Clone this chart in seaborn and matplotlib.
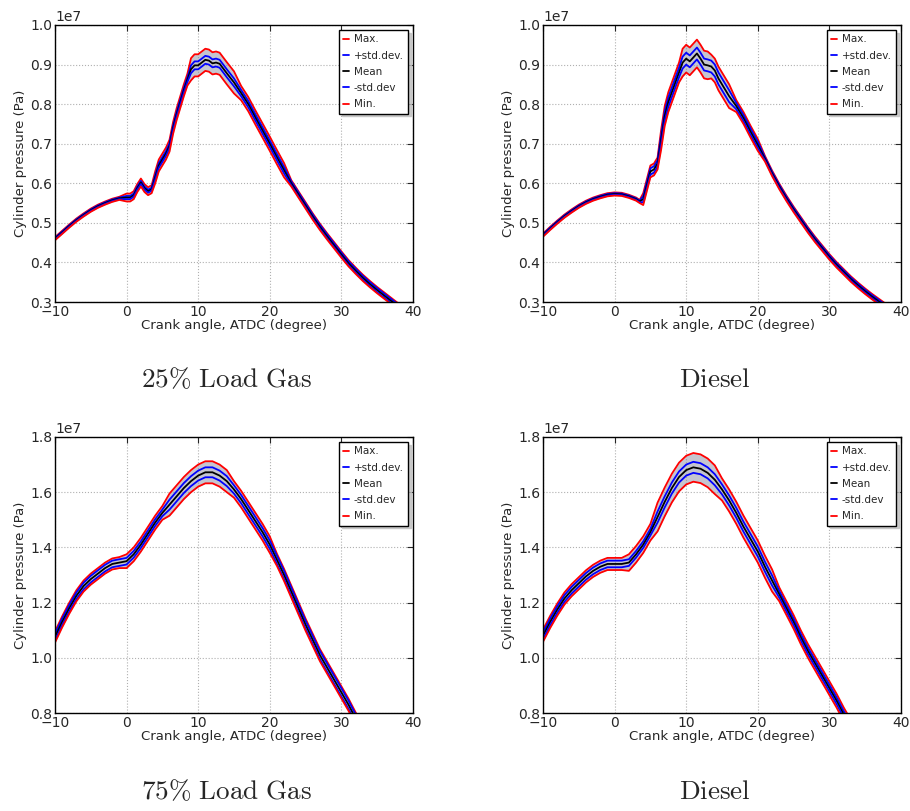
import numpy as np
import pandas as pd
import matplotlib
matplotlib.use('Agg')
import matplotlib.pyplot as plt
import seaborn as sns

# crank angle (deg ATDC) and pressures in MPa (1e6 Pa)
# --- 25% load, gas
angle_a = [-10, -9, -8, -7, -6, -5, -4, -3, -2, -1, 0, 0.5, 1, 1.5, 2, 2.5, 3, 3.5, 4, 4.5,
           5, 5.5, 6, 6.5, 7, 7.5, 8, 8.5, 9, 9.5, 10, 10.5, 11, 11.5, 12, 12.5, 13, 13.5,
           14, 15, 16, 17, 18, 19, 20, 21, 22, 23, 24, 25, 26, 27, 28, 29, 30, 31, 32, 33,
           34, 35, 36, 37, 38]
mean_a = [4.60, 4.76, 4.92, 5.07, 5.20, 5.32, 5.42, 5.50, 5.57, 5.62, 5.64, 5.64, 5.70, 5.88,
          6.02, 5.88, 5.80, 5.85, 6.15, 6.45, 6.60, 6.75, 6.95, 7.40, 7.75, 8.05, 8.35, 8.62,
          8.88, 8.98, 8.98, 9.05, 9.12, 9.10, 9.03, 9.05, 9.02, 8.90, 8.78, 8.55, 8.28, 8.00,
          7.66, 7.33, 7.00, 6.66, 6.33, 6.00, 5.72, 5.44, 5.16, 4.90, 4.66, 4.43, 4.20, 3.98,
          3.79, 3.61, 3.45, 3.30, 3.16, 3.02, 2.88]
std_a = [0.02] * 10 + [0.04] * 8 + [0.06] * 10 + [0.10] * 12 + [0.08] * 7 + [0.05] * 16
span_a = [0.04] * 10 + [0.10] * 8 + [0.15] * 10 + [0.28] * 12 + [0.18] * 7 + [0.08] * 16

# --- 25% load, diesel
angle_b = [-10, -9, -8, -7, -6, -5, -4, -3, -2, -1, 0, 1, 2, 3, 3.5, 4, 4.5, 5, 5.5, 6, 6.5,
           7, 7.5, 8, 8.5, 9, 9.5, 10, 10.5, 11, 11.5, 12, 12.5, 13, 13.5, 14, 14.5, 15, 15.5,
           16, 17, 18, 19, 20, 21, 22, 23, 24, 25, 26, 27, 28, 29, 30, 31, 32, 33, 34, 35,
           36, 37, 38]
mean_b = [4.69, 4.86, 5.02, 5.17, 5.30, 5.42, 5.52, 5.60, 5.66, 5.71, 5.73, 5.72, 5.67, 5.60,
          5.54, 5.60, 5.95, 6.30, 6.35, 6.50, 7.10, 7.70, 8.05, 8.30, 8.55, 8.80, 9.05, 9.15,
          9.08, 9.18, 9.28, 9.15, 9.00, 8.98, 8.95, 8.85, 8.65, 8.50, 8.35, 8.20, 7.95, 7.65,
          7.30, 6.97, 6.62, 6.25, 5.92, 5.62, 5.34, 5.08, 4.82, 4.58, 4.36, 4.14, 3.94, 3.76,
          3.58, 3.42, 3.27, 3.13, 3.00, 2.87]
std_b = [0.02] * 15 + [0.08] * 5 + [0.12] * 6 + [0.15] * 14 + [0.08] * 4 + [0.04] * 18
span_b = [0.04] * 15 + [0.15] * 5 + [0.25] * 6 + [0.35] * 8 + [0.30] * 6 + [0.15] * 4 + [0.07] * 18

# --- 75% load, gas
angle_c = list(range(-10, 34))
mean_c = [10.75, 11.30, 11.80, 12.25, 12.60, 12.85, 13.05, 13.25, 13.40, 13.45, 13.50, 13.75,
          14.10, 14.50, 14.90, 15.25, 15.55, 15.85, 16.15, 16.40, 16.60, 16.72, 16.72, 16.60,
          16.40, 16.10, 15.75, 15.35, 14.95, 14.55, 14.10, 13.55, 13.00, 12.40, 11.80, 11.20,
          10.65, 10.10, 9.65, 9.20, 8.75, 8.30, 7.80, 7.40]
std_c = [0.12] * 16 + [0.18] * 9 + [0.15] * 19
span_c = [0.20] * 10 + [0.25] * 6 + [0.40] * 9 + [0.30] * 6 + [0.22] * 13

# --- 75% load, diesel
angle_d = list(range(-10, 34))
mean_d = [10.80, 11.30, 11.75, 12.15, 12.45, 12.70, 12.95, 13.15, 13.30, 13.40, 13.40, 13.40,
          13.45, 13.75, 14.10, 14.55, 15.10, 15.65, 16.15, 16.55, 16.80, 16.90, 16.85, 16.70,
          16.45, 16.10, 15.70, 15.25, 14.75, 14.30, 13.85, 13.30, 12.80, 12.30, 11.80, 11.30,
          10.75, 10.25, 9.80, 9.35, 8.90, 8.45, 7.95, 7.50]
std_d = [0.12] * 16 + [0.20] * 9 + [0.18] * 8 + [0.12] * 11
span_d = [0.22] * 12 + [0.30] * 4 + [0.52] * 9 + [0.40] * 8 + [0.25] * 11

panels = [
    (angle_a, mean_a, std_a, span_a, (3e6, 1e7), '25\\%\\ Load\\ Gas'),
    (angle_b, mean_b, std_b, span_b, (3e6, 1e7), 'Diesel'),
    (angle_c, mean_c, std_c, span_c, (8e6, 1.8e7), '75\\%\\ Load\\ Gas'),
    (angle_d, mean_d, std_d, span_d, (8e6, 1.8e7), 'Diesel'),
]

series_order = ['Max.', '+std.dev.', 'Mean', '-std.dev', 'Min.']
colors = {'Max.': 'r', '+std.dev.': 'b', 'Mean': 'k', '-std.dev': 'b', 'Min.': 'r'}

sns.set_style('whitegrid', {'grid.linestyle': ':', 'grid.color': '#b0b0b0',
                            'axes.edgecolor': 'black', 'xtick.direction': 'in',
                            'ytick.direction': 'in'})
plt.rcParams['font.family'] = ['DejaVu Sans']

fig = plt.figure(figsize=(9.1, 8.11), dpi=100)
boxes = [[0.0604, 0.6276, 0.3934, 0.3416], [0.5967, 0.6276, 0.3934, 0.3416],
         [0.0604, 0.1208, 0.3934, 0.3404], [0.5967, 0.1208, 0.3934, 0.3404]]
caption_pos = [(0.249, 0.523), (0.786, 0.523), (0.249, 0.015), (0.786, 0.015)]

for (ang, mean, std, span, ylim, cap), box, cpos in zip(panels, boxes, caption_pos):
    ax = fig.add_axes(box)
    ang = np.array(ang)
    mean = np.array(mean) * 1e6
    std = np.array(std) * 1e6
    span = np.array(span) * 1e6
    curves = {'Max.': mean + span, '+std.dev.': mean + std, 'Mean': mean,
              '-std.dev': mean - std, 'Min.': mean - span}
    df = pd.concat([pd.DataFrame({'angle': ang, 'pressure': v, 'series': k})
                    for k, v in curves.items()])
    ax.fill_between(ang, curves['Min.'], curves['Max.'], color='#8c8ca0', alpha=0.5, lw=0)
    sns.lineplot(data=df, x='angle', y='pressure', hue='series', hue_order=series_order,
                 palette=colors, linewidth=1.3, ax=ax)
    h, l = ax.get_legend_handles_labels()
    ax.legend(h, l, loc='upper right', fontsize=7.5, handlelength=0.6, handletextpad=0.4,
              labelspacing=0.6, frameon=True, fancybox=False,
              shadow={'color': '0.75', 'alpha': 0.8, 'ox': 2, 'oy': -2},
              edgecolor='black', borderpad=0.4, framealpha=1)
    ax.set_xlim(-10, 40)
    ax.set_ylim(*ylim)
    ax.set_xticks([-10, 0, 10, 20, 30, 40])
    ax.set_xlabel('Crank angle, ATDC (degree)', fontsize=9.5, labelpad=0)
    ax.set_ylabel('Cylinder pressure (Pa)', fontsize=9.5, labelpad=2)
    ax.tick_params(labelsize=10, pad=2, top=True, right=True, length=4, width=0.8,
                   direction='in')
    ax.yaxis.get_offset_text().set_fontsize(10)
    for s in ax.spines.values():
        s.set_linewidth(1.0)
    fig.text(cpos[0], cpos[1], '$\\mathrm{' + cap + '}$', fontsize=19.5, ha='center',
             va='baseline', math_fontfamily='cm')

fig.savefig('out.png', dpi=100)
